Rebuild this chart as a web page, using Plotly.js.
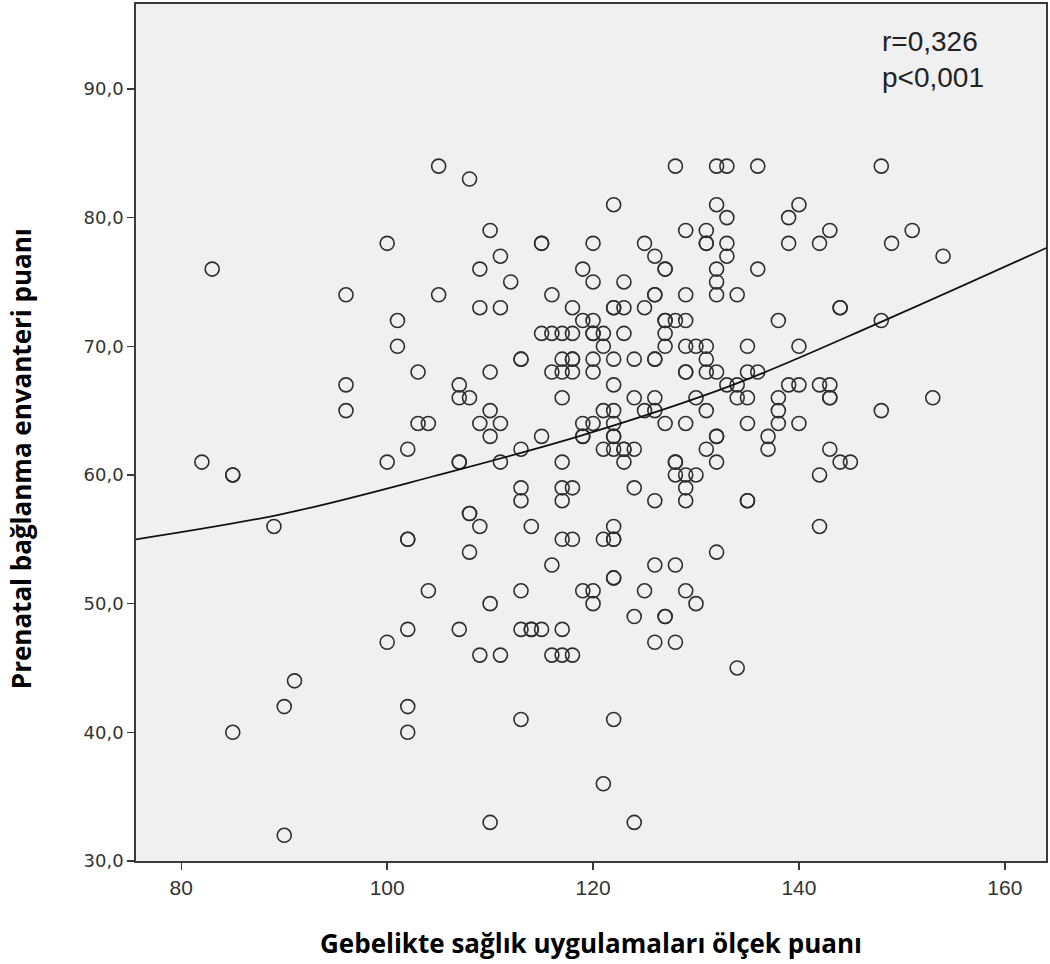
<!DOCTYPE html>
<html>
<head>
<meta charset="utf-8">
<script src="https://cdn.plot.ly/plotly-3.0.1.min.js"></script>
<style>html,body{margin:0;padding:0;background:#fff;}</style>
</head>
<body>
<div id="chart" style="width:1050px;height:964px;"></div>
<script>
// Prenatal attachment score levels (y) and the health-practice scores (x) observed at each level
const attachLevels = [84,83,81,80,79,78,77,76,75,74,73,72,71,70,69,68,67,66,65,64,63,62,61,60,59,58,57,56,55,54,53,52,51,50,49,48,47,46,45,44,42,41,40,36,33,32];
const healthScoresByLevel = [
  [105,128,132,133,136,148],
  [108],
  [122,132,140],
  [133,139],
  [110,129,131,143,151],
  [100,115,115,120,125,131,131,133,139,142,149],
  [111,126,133,154],
  [83,109,119,127,127,132,136],
  [112,120,123,132],
  [96,105,116,126,126,129,132,134],
  [109,111,118,122,122,123,125,144,144],
  [101,119,120,127,127,128,129,138,148],
  [115,116,117,118,120,120,121,123,127],
  [101,121,127,129,130,131,135,140],
  [113,113,117,118,118,120,122,124,126,126,131],
  [103,110,116,117,118,120,129,129,131,132,135,136],
  [96,107,122,133,134,139,140,142,143],
  [107,108,117,124,126,130,134,135,138,143,143,153],
  [96,110,121,122,125,126,131,138,148],
  [103,104,109,111,119,120,122,127,129,135,138,140],
  [110,115,119,119,122,122,132,132,137],
  [102,113,121,122,123,123,124,131,137,143],
  [82,100,107,107,111,117,123,128,128,132,144,145],
  [85,85,128,129,130,142],
  [113,117,118,124,129],
  [113,117,126,129,135,135],
  [108,108],
  [89,109,114,122,142],
  [102,102,117,118,121,122,122],
  [108,132],
  [116,126,128],
  [122,122],
  [104,113,119,120,125,129],
  [110,120,130],
  [124,127,127],
  [102,107,113,114,114,115,117],
  [100,126,128],
  [109,111,116,117,118],
  [134],
  [91],
  [90,102],
  [113,122],
  [85,102],
  [121],
  [110,124],
  [90]
];

// Fitted curve
const fitX = [75.6, 90, 104.5, 119, 133.6, 148, 164.2];
const fitY = [55.0, 57.0, 59.9, 63.1, 67.0, 71.9, 77.7];

const xTicks = [80, 100, 120, 140, 160];
const yTicks = [30, 40, 50, 60, 70, 80, 90];
const yTickText = ['30,0', '40,0', '50,0', '60,0', '70,0', '80,0', '90,0'];

const xTitle = 'Gebelikte sağlık uygulamaları ölçek puanı';
const yTitle = 'Prenatal bağlanma envanteri puanı';
const statLines = ['r=0,326', 'p&lt;0,001'];

const xs = [], ys = [];
attachLevels.forEach((lvl, i) => {
  healthScoresByLevel[i].forEach(v => { xs.push(v); ys.push(lvl); });
});

const traces = [
  {
    x: xs, y: ys, type: 'scatter', mode: 'markers',
    marker: { symbol: 'circle-open', size: 14, color: '#2e2e2e', line: { width: 1.6, color: '#2e2e2e' } },
    hoverinfo: 'x+y', showlegend: false
  },
  {
    x: fitX, y: fitY, type: 'scatter', mode: 'lines',
    line: { color: '#111111', width: 1.8, shape: 'spline', smoothing: 1 },
    hoverinfo: 'skip', showlegend: false
  }
];

const axisCommon = {
  showgrid: false, zeroline: false, showline: true, mirror: true,
  linecolor: '#3a3a3a', linewidth: 1.8,
  ticks: 'outside', ticklen: 7, tickcolor: '#3a3a3a', tickwidth: 1.5
};

const titleFont = { family: 'Open Sans, sans-serif', size: 26, color: '#000000', weight: 'bold' };

const layout = {
  width: 1050, height: 964,
  margin: { l: 136, r: 4, t: 4, b: 103 },
  paper_bgcolor: '#ffffff', plot_bgcolor: '#f0f0f0',
  xaxis: Object.assign({}, axisCommon, {
    range: [75.6, 164.0], tickmode: 'array', tickvals: xTicks,
    tickfont: { family: 'Liberation Sans Narrow, Arial Narrow, Liberation Sans, sans-serif', size: 21, color: '#333333' },
    title: { text: xTitle, standoff: 37, font: titleFont }
  }),
  yaxis: Object.assign({}, axisCommon, {
    range: [30, 96.6], tickmode: 'array', tickvals: yTicks, ticktext: yTickText,
    tickfont: { family: 'DejaVu Sans, sans-serif', size: 18, color: '#333333' }
  }),
  annotations: statLines.map((t, i) => ({
    xref: 'paper', yref: 'paper', x: 0.8176, y: i === 0 ? 0.9557 : 0.9148,
    xanchor: 'left', yanchor: 'middle', showarrow: false, align: 'left',
    text: t, font: { family: 'Liberation Sans, Arial, sans-serif', size: 28, color: '#222222' }
  })).concat([{
    xref: 'paper', yref: 'paper', x: -0.1264, y: 0.470,
    xanchor: 'center', yanchor: 'middle', showarrow: false, textangle: -90,
    text: yTitle, font: titleFont
  }])
};

Plotly.newPlot('chart', traces, layout, { displayModeBar: false, staticPlot: true });
</script>
</body>
</html>
